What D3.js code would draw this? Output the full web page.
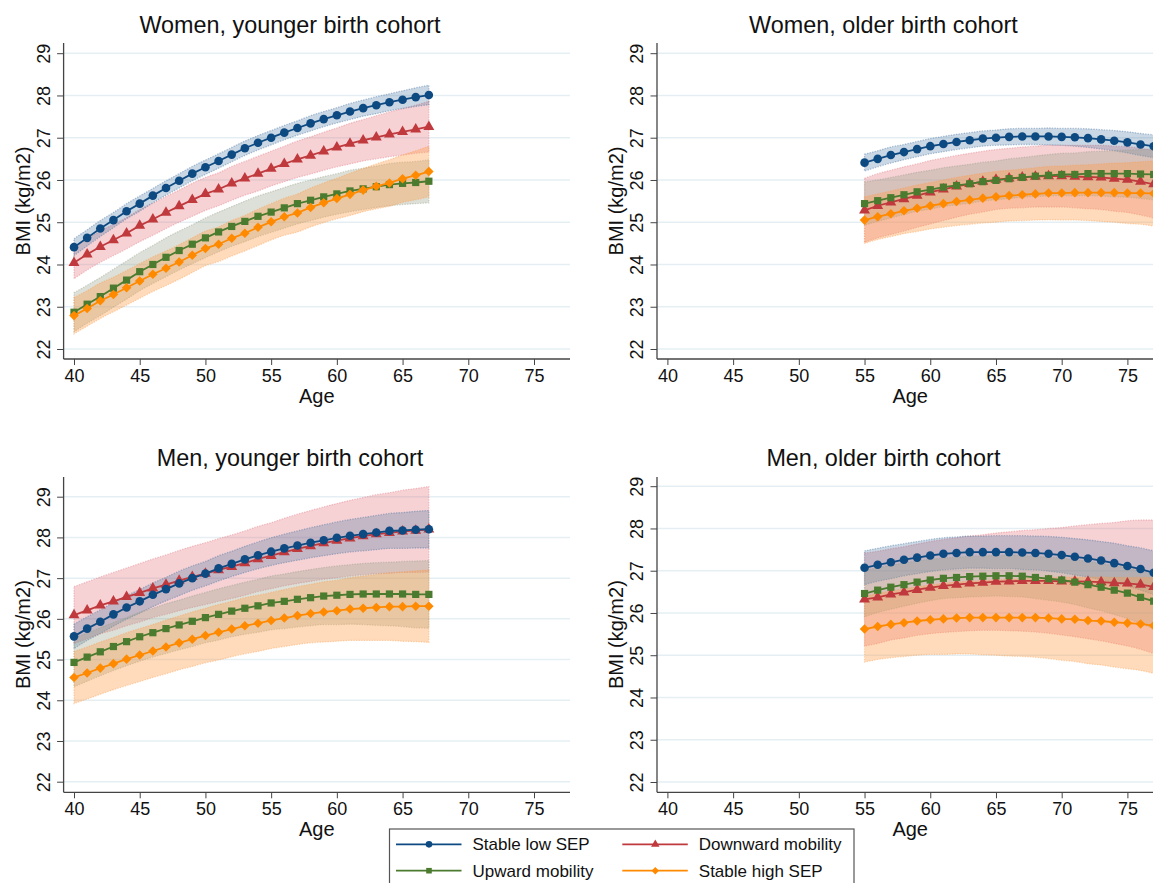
<!DOCTYPE html>
<html>
<head>
<meta charset="utf-8">
<script src="https://cdn.jsdelivr.net/npm/d3@7"></script>
<style>
  body { margin: 0; background: #fff; }
  svg { display: block; font-family: "Liberation Sans", Arial, sans-serif; }
</style>
</head>
<body>
<div id="chart"></div>
<script>
// ages on the x axis
const agesYoung = [40,41,42,43,44,45,46,47,48,49,50,51,52,53,54,55,56,57,58,59,60,61,62,63,64,65,66,67];
const agesOld = [55,56,57,58,59,60,61,62,63,64,65,66,67,68,69,70,71,72,73,74,75,76,77];

const xTicks = [40,45,50,55,60,65,70,75];
const yTicks = [22,23,24,25,26,27,28,29];

const seriesNames = ["Stable low SEP", "Downward mobility", "Upward mobility", "Stable high SEP"];

// Women, younger cohort: predicted BMI and half width of the 95% CI
const wyLow = [24.41,24.63,24.85,25.05,25.26,25.44,25.63,25.81,25.98,26.15,26.30,26.45,26.60,26.75,26.88,27.00,27.12,27.23,27.34,27.44,27.53,27.62,27.70,27.77,27.84,27.90,27.96,28.01];
const wyLowCI = [0.20,0.19,0.19,0.18,0.18,0.18,0.17,0.17,0.17,0.17,0.17,0.17,0.17,0.17,0.17,0.17,0.17,0.17,0.18,0.18,0.18,0.19,0.19,0.20,0.20,0.21,0.22,0.23];
const wyDown = [24.04,24.24,24.42,24.58,24.74,24.92,25.07,25.23,25.38,25.53,25.67,25.78,25.92,26.04,26.15,26.27,26.38,26.49,26.58,26.68,26.77,26.86,26.94,27.01,27.08,27.14,27.20,27.26];
const wyDownCI = [0.38,0.37,0.37,0.37,0.37,0.38,0.38,0.38,0.38,0.39,0.39,0.39,0.40,0.40,0.41,0.41,0.42,0.43,0.44,0.45,0.46,0.48,0.49,0.51,0.53,0.55,0.57,0.60];
const wyUp = [22.87,23.06,23.24,23.44,23.63,23.83,24.00,24.17,24.33,24.48,24.63,24.77,24.90,25.02,25.14,25.24,25.34,25.44,25.52,25.60,25.67,25.74,25.79,25.84,25.89,25.92,25.94,25.97];
const wyUpCI = [0.46,0.45,0.45,0.45,0.45,0.45,0.45,0.46,0.46,0.46,0.47,0.47,0.47,0.48,0.48,0.48,0.48,0.48,0.48,0.48,0.48,0.49,0.49,0.49,0.50,0.50,0.50,0.51];
const wyHigh = [22.79,22.96,23.14,23.29,23.45,23.61,23.77,23.91,24.06,24.22,24.38,24.48,24.62,24.74,24.88,25.01,25.13,25.22,25.35,25.46,25.56,25.66,25.76,25.85,25.93,26.03,26.11,26.20];
const wyHighCI = [0.43,0.42,0.42,0.41,0.41,0.41,0.41,0.41,0.41,0.41,0.41,0.41,0.42,0.42,0.43,0.43,0.44,0.45,0.46,0.47,0.48,0.50,0.51,0.53,0.55,0.56,0.58,0.60];

// Women, older cohort
const woLow = [26.41,26.50,26.59,26.66,26.73,26.80,26.85,26.90,26.94,26.98,27.00,27.02,27.03,27.03,27.03,27.02,27.01,26.99,26.96,26.93,26.89,26.84,26.80];
const woLowCI = [0.20,0.19,0.19,0.18,0.18,0.18,0.18,0.18,0.18,0.18,0.18,0.19,0.19,0.19,0.20,0.20,0.21,0.22,0.23,0.24,0.25,0.26,0.27];
const woDown = [25.28,25.39,25.47,25.55,25.63,25.71,25.78,25.85,25.91,25.96,26.01,26.04,26.06,26.08,26.09,26.09,26.08,26.07,26.06,26.03,26.01,25.96,25.90];
const woDownCI = [0.76,0.76,0.76,0.76,0.75,0.75,0.74,0.73,0.72,0.72,0.71,0.71,0.72,0.72,0.73,0.73,0.74,0.75,0.76,0.77,0.78,0.79,0.80];
const woUp = [25.44,25.51,25.58,25.65,25.72,25.77,25.83,25.87,25.91,25.96,25.99,26.03,26.06,26.09,26.11,26.13,26.13,26.15,26.15,26.15,26.15,26.14,26.13];
const woUpCI = [0.51,0.49,0.48,0.47,0.46,0.46,0.46,0.46,0.46,0.46,0.46,0.47,0.47,0.48,0.49,0.50,0.51,0.52,0.53,0.55,0.56,0.58,0.60];
const woHigh = [25.05,25.13,25.20,25.27,25.33,25.39,25.44,25.49,25.53,25.57,25.60,25.63,25.65,25.67,25.69,25.69,25.70,25.70,25.70,25.70,25.69,25.69,25.68];
const woHighCI = [0.55,0.54,0.54,0.54,0.55,0.55,0.56,0.57,0.58,0.59,0.60,0.60,0.61,0.62,0.63,0.64,0.65,0.66,0.68,0.70,0.72,0.74,0.77];

// Men, younger cohort
const myLow = [25.57,25.76,25.93,26.11,26.28,26.43,26.59,26.73,26.87,27.00,27.11,27.24,27.35,27.46,27.56,27.65,27.73,27.80,27.87,27.93,27.99,28.04,28.08,28.12,28.16,28.17,28.19,28.20];
const myLowCI = [0.30,0.29,0.29,0.29,0.29,0.29,0.29,0.29,0.30,0.30,0.30,0.31,0.31,0.32,0.33,0.34,0.35,0.36,0.37,0.38,0.39,0.40,0.41,0.42,0.43,0.44,0.45,0.46];
const myDown = [26.09,26.21,26.33,26.43,26.54,26.64,26.75,26.84,26.94,27.03,27.11,27.20,27.28,27.37,27.47,27.55,27.64,27.72,27.79,27.86,27.92,27.98,28.03,28.08,28.11,28.15,28.17,28.20];
const myDownCI = [0.70,0.70,0.70,0.71,0.71,0.72,0.72,0.73,0.74,0.75,0.76,0.77,0.78,0.79,0.80,0.81,0.83,0.85,0.87,0.89,0.91,0.93,0.95,0.97,0.99,1.01,1.03,1.05];
const myUp = [24.93,25.06,25.19,25.32,25.44,25.56,25.66,25.76,25.85,25.94,26.03,26.11,26.19,26.26,26.32,26.39,26.43,26.48,26.52,26.56,26.58,26.60,26.61,26.61,26.61,26.61,26.60,26.60];
const myUpCI = [0.60,0.59,0.59,0.59,0.59,0.60,0.60,0.61,0.61,0.62,0.62,0.63,0.63,0.64,0.65,0.66,0.67,0.68,0.69,0.70,0.72,0.73,0.75,0.77,0.78,0.80,0.82,0.83];
const myHigh = [24.56,24.67,24.79,24.90,25.01,25.11,25.21,25.31,25.41,25.50,25.59,25.67,25.75,25.83,25.89,25.96,26.02,26.08,26.13,26.17,26.20,26.24,26.26,26.28,26.30,26.30,26.31,26.31];
const myHighCI = [0.64,0.64,0.64,0.64,0.65,0.65,0.65,0.66,0.66,0.67,0.67,0.68,0.68,0.69,0.69,0.69,0.70,0.71,0.72,0.74,0.75,0.77,0.79,0.81,0.83,0.85,0.87,0.89];

// Men, older cohort
const moLow = [27.07,27.14,27.20,27.26,27.31,27.36,27.40,27.42,27.44,27.44,27.44,27.44,27.43,27.42,27.40,27.37,27.33,27.29,27.24,27.18,27.11,27.04,26.95];
const moLowCI = [0.40,0.39,0.39,0.38,0.38,0.38,0.38,0.38,0.38,0.38,0.39,0.39,0.40,0.40,0.41,0.42,0.43,0.44,0.45,0.47,0.48,0.50,0.52];
const moDown = [26.32,26.37,26.44,26.49,26.55,26.60,26.64,26.67,26.70,26.72,26.74,26.75,26.76,26.76,26.76,26.75,26.75,26.74,26.73,26.71,26.70,26.67,26.62];
const moDownCI = [1.10,1.09,1.08,1.08,1.08,1.09,1.10,1.11,1.12,1.13,1.15,1.17,1.19,1.21,1.24,1.27,1.31,1.35,1.39,1.43,1.48,1.53,1.58];
const moUp = [26.46,26.54,26.61,26.67,26.73,26.78,26.82,26.84,26.86,26.87,26.88,26.88,26.87,26.84,26.81,26.78,26.73,26.67,26.61,26.54,26.47,26.37,26.28];
const moUpCI = [0.55,0.53,0.52,0.51,0.50,0.49,0.48,0.48,0.48,0.48,0.48,0.49,0.49,0.50,0.51,0.52,0.53,0.55,0.56,0.58,0.60,0.62,0.65];
const moHigh = [25.62,25.68,25.73,25.77,25.81,25.84,25.86,25.88,25.89,25.89,25.89,25.89,25.89,25.89,25.88,25.86,25.85,25.82,25.81,25.78,25.76,25.74,25.70];
const moHighCI = [0.78,0.78,0.79,0.80,0.81,0.82,0.84,0.85,0.86,0.88,0.89,0.91,0.92,0.94,0.96,0.98,1.00,1.02,1.04,1.06,1.08,1.10,1.13];

const width = 1153, height = 883;

// line colour, band fill, marker
const styles = [
    { color: "#0e4a82", band: "#3f6f9e", op: 0.28, symbol: d3.symbolCircle, size: 58, rot: 0 },
    { color: "#c0393d", band: "#e3737d", op: 0.32, symbol: d3.symbolTriangle, size: 52, rot: 0 },
    { color: "#4b7b2e", band: "#949e86", op: 0.32, symbol: d3.symbolSquare, size: 52, rot: 0 },
    { color: "#ff8a00", band: "#ff9a45", op: 0.36, symbol: d3.symbolSquare, size: 46, rot: 45 }
];

const panels = [
    { title: "Women, younger birth cohort", ages: agesYoung,
      means: [wyLow, wyDown, wyUp, wyHigh], cis: [wyLowCI, wyDownCI, wyUpCI, wyHighCI],
      axisX: 63.6, top: 43, bottom: 359, y22: 349, y29: 53.2, titleY: 32.5 },
    { title: "Women, older birth cohort", ages: agesOld,
      means: [woLow, woDown, woUp, woHigh], cis: [woLowCI, woDownCI, woUpCI, woHighCI],
      axisX: 657, top: 43, bottom: 359, y22: 349, y29: 53.2, titleY: 32.5 },
    { title: "Men, younger birth cohort", ages: agesYoung,
      means: [myLow, myDown, myUp, myHigh], cis: [myLowCI, myDownCI, myUpCI, myHighCI],
      axisX: 63.6, top: 477, bottom: 792.3, y22: 781.7, y29: 496.7, titleY: 465.7 },
    { title: "Men, older birth cohort", ages: agesOld,
      means: [moLow, moDown, moUp, moHigh], cis: [moLowCI, moDownCI, moUpCI, moHighCI],
      axisX: 657, top: 477, bottom: 792.3, y22: 782, y29: 486.2, titleY: 465.7 }
];

const svg = d3.select("#chart")
    .append("svg")
    .attr("width", width)
    .attr("height", height);

const plotW = 506.4;   // length of the x axis line

for (let p of panels) {
    let x = d3.scaleLinear()
        .domain([40, 75])
        .range([p.axisX + 10.4, p.axisX + 10.4 + 460]);
    let y = d3.scaleLinear()
        .domain([22, 29])
        .range([p.y22, p.y29]);

    let g = svg.append("g");

    // grid lines
    g.append("g")
        .selectAll("line")
        .data(yTicks)
        .join("line")
        .attr("x1", p.axisX)
        .attr("x2", p.axisX + plotW)
        .attr("y1", d => y(d))
        .attr("y2", d => y(d))
        .attr("stroke", "#e5eff3")
        .attr("stroke-width", 1.5);

    // y axis
    let yAxis = g.append("g")
        .attr("transform", `translate(${p.axisX},0)`)
        .call(d3.axisLeft(y).tickValues(yTicks).tickFormat(d3.format("d")).tickSize(6.5).tickSizeOuter(0));
    yAxis.select(".domain").remove();
    yAxis.selectAll("line").attr("stroke", "#444");
    yAxis.selectAll("text")
        .attr("x", 0)
        .attr("y", -20)
        .attr("dy", "0.35em")
        .attr("text-anchor", "middle")
        .attr("transform", "rotate(-90)")
        .attr("font-size", 18)
        .attr("font-family", "Liberation Sans, Arial, sans-serif")
        .attr("fill", "#111");

    // x axis
    let xAxis = g.append("g")
        .attr("transform", `translate(0,${p.bottom})`)
        .call(d3.axisBottom(x).tickValues(xTicks).tickFormat(d3.format("d")).tickSize(6).tickSizeOuter(0));
    xAxis.select(".domain").remove();
    xAxis.selectAll("line").attr("stroke", "#444");
    xAxis.selectAll("text")
        .attr("y", 10)
        .attr("dy", "0.71em")
        .attr("font-size", 18)
        .attr("font-family", "Liberation Sans, Arial, sans-serif")
        .attr("fill", "#111");

    // axis lines
    g.append("line")
        .attr("x1", p.axisX).attr("x2", p.axisX)
        .attr("y1", p.top).attr("y2", p.bottom)
        .attr("stroke", "#444").attr("stroke-width", 1.3);
    g.append("line")
        .attr("x1", p.axisX).attr("x2", p.axisX + plotW)
        .attr("y1", p.bottom).attr("y2", p.bottom)
        .attr("stroke", "#444").attr("stroke-width", 1.3);

    // CI bands
    let area = d3.area()
        .x(d => x(d.age))
        .y0(d => y(d.v - d.ci))
        .y1(d => y(d.v + d.ci))
        .curve(d3.curveMonotoneX);

    let order = [1, 0, 2, 3];
    for (let i of order) {
        let rows = p.ages.map((a, k) => ({ age: a, v: p.means[i][k], ci: p.cis[i][k] }));
        g.append("path")
            .datum(rows)
            .attr("d", area)
            .attr("fill", styles[i].band)
            .attr("fill-opacity", styles[i].op)
            .attr("stroke", styles[i].band)
            .attr("stroke-opacity", 0.4)
            .attr("stroke-width", 1.3)
            .attr("stroke-dasharray", "1.3,1.3");
    }

    // lines and markers
    let line = d3.line()
        .x(d => x(d.age))
        .y(d => y(d.v));

    for (let i of order) {
        let rows = p.ages.map((a, k) => ({ age: a, v: p.means[i][k] }));
        g.append("path")
            .datum(rows)
            .attr("d", line)
            .attr("fill", "none")
            .attr("stroke", styles[i].color)
            .attr("stroke-width", 1.8);
        g.append("g")
            .selectAll("path")
            .data(rows)
            .join("path")
            .attr("d", d3.symbol(styles[i].symbol, styles[i].size))
            .attr("transform", d => `translate(${x(d.age)},${y(d.v)}) rotate(${styles[i].rot})`)
            .attr("fill", styles[i].color);
    }

    // titles
    let cx = p.axisX - 53.6 + (plotW + 53.6) / 2;
    g.append("text")
        .attr("x", cx)
        .attr("y", p.titleY)
        .attr("text-anchor", "middle")
        .attr("font-size", 23.4)
        .attr("fill", "#111")
        .text(p.title);

    g.append("text")
        .attr("x", p.axisX + plotW / 2)
        .attr("y", p.bottom + 44)
        .attr("text-anchor", "middle")
        .attr("font-size", 20)
        .attr("fill", "#111")
        .text("Age");

    g.append("text")
        .attr("transform", `translate(${p.axisX - 41},${(p.top + p.bottom) / 2}) rotate(-90)`)
        .attr("dy", "0.35em")
        .attr("text-anchor", "middle")
        .attr("font-size", 20)
        .attr("fill", "#111")
        .text("BMI (kg/m2)");
}

// legend
let legend = svg.append("g");
legend.append("rect")
    .attr("x", 389.5).attr("y", 829)
    .attr("width", 464.5).attr("height", 70)
    .attr("fill", "#fff")
    .attr("stroke", "#555")
    .attr("stroke-width", 1.2);

let legendPos = [
    { x: 396, y: 844.3 },   // Stable low SEP
    { x: 622.3, y: 844.3 }, // Downward mobility
    { x: 396, y: 870.7 },   // Upward mobility
    { x: 622.3, y: 870.7 }  // Stable high SEP
];

seriesNames.forEach((name, i) => {
    let pos = legendPos[i];
    legend.append("line")
        .attr("x1", pos.x).attr("x2", pos.x + 65.5)
        .attr("y1", pos.y).attr("y2", pos.y)
        .attr("stroke", styles[i].color)
        .attr("stroke-width", 1.8);
    legend.append("path")
        .attr("d", d3.symbol(styles[i].symbol, styles[i].size * 0.6))
        .attr("transform", `translate(${pos.x + 33},${pos.y}) rotate(${styles[i].rot})`)
        .attr("fill", styles[i].color);
    legend.append("text")
        .attr("x", pos.x + 76.5)
        .attr("y", pos.y)
        .attr("dy", "0.35em")
        .attr("font-size", 17)
        .attr("fill", "#111")
        .text(name);
});
</script>
</body>
</html>
